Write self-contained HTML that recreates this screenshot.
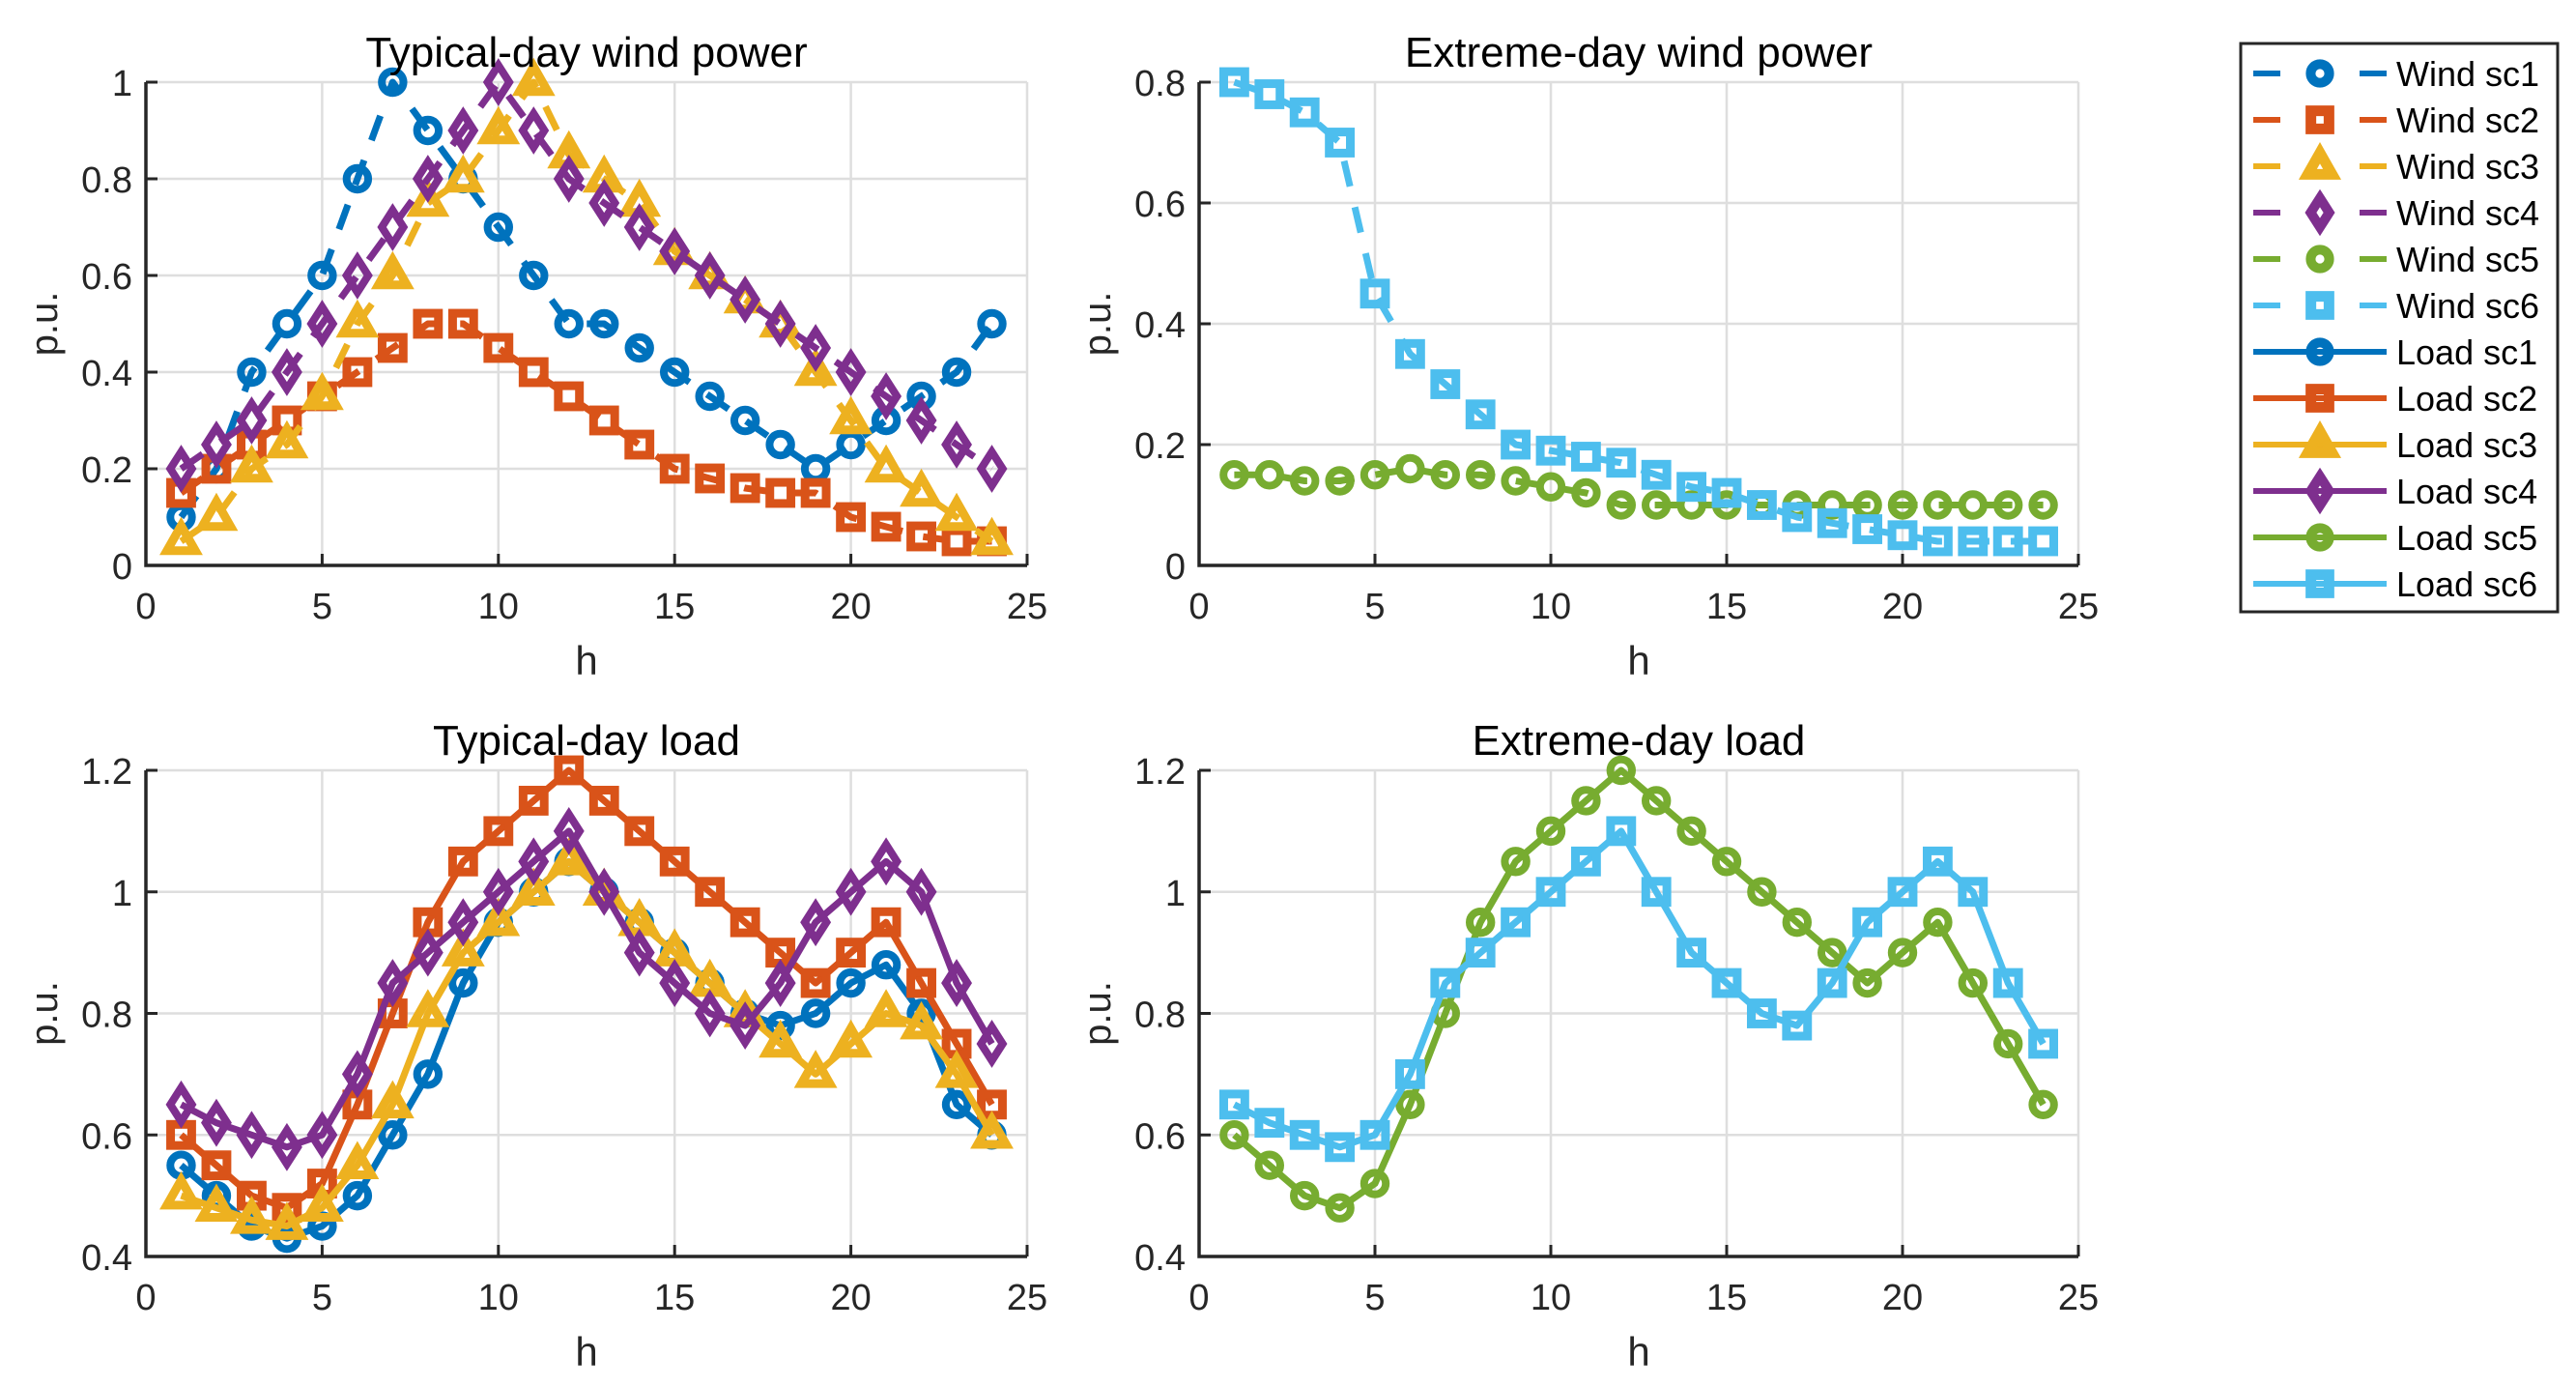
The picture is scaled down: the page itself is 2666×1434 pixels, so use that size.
<!DOCTYPE html>
<html><head><meta charset="utf-8"><style>
body{margin:0;background:#fff;}
svg{display:block;font-family:"Liberation Sans",Arial,sans-serif;}
</style></head><body>
<svg id="fig" width="2666" height="1434" viewBox="0 0 2666 1434" xmlns="http://www.w3.org/2000/svg"></svg>
<script>
const hours=[1,2,3,4,5,6,7,8,9,10,11,12,13,14,15,16,17,18,19,20,21,22,23,24];
const windSc1=[0.1,0.2,0.4,0.5,0.6,0.8,1.0,0.9,0.8,0.7,0.6,0.5,0.5,0.45,0.4,0.35,0.3,0.25,0.2,0.25,0.3,0.35,0.4,0.5];
const windSc2=[0.15,0.2,0.25,0.3,0.35,0.4,0.45,0.5,0.5,0.45,0.4,0.35,0.3,0.25,0.2,0.18,0.16,0.15,0.15,0.1,0.08,0.06,0.05,0.05];
const windSc3=[0.05,0.1,0.2,0.25,0.35,0.5,0.6,0.75,0.8,0.9,1.0,0.85,0.8,0.75,0.65,0.6,0.55,0.5,0.4,0.3,0.2,0.15,0.1,0.05];
const windSc4=[0.2,0.25,0.3,0.4,0.5,0.6,0.7,0.8,0.9,1.0,0.9,0.8,0.75,0.7,0.65,0.6,0.55,0.5,0.45,0.4,0.35,0.3,0.25,0.2];
const windSc5=[0.15,0.15,0.14,0.14,0.15,0.16,0.15,0.15,0.14,0.13,0.12,0.1,0.1,0.1,0.1,0.1,0.1,0.1,0.1,0.1,0.1,0.1,0.1,0.1];
const windSc6=[0.8,0.78,0.75,0.7,0.45,0.35,0.3,0.25,0.2,0.19,0.18,0.17,0.15,0.13,0.12,0.1,0.08,0.07,0.06,0.05,0.04,0.04,0.04,0.04];
const loadSc1=[0.55,0.5,0.45,0.43,0.45,0.5,0.6,0.7,0.85,0.95,1.0,1.05,1.0,0.95,0.9,0.85,0.8,0.78,0.8,0.85,0.88,0.8,0.65,0.6];
const loadSc2=[0.6,0.55,0.5,0.48,0.52,0.65,0.8,0.95,1.05,1.1,1.15,1.2,1.15,1.1,1.05,1.0,0.95,0.9,0.85,0.9,0.95,0.85,0.75,0.65];
const loadSc3=[0.5,0.48,0.46,0.45,0.48,0.55,0.65,0.8,0.9,0.95,1.0,1.05,1.0,0.95,0.9,0.85,0.8,0.75,0.7,0.75,0.8,0.78,0.7,0.6];
const loadSc4=[0.65,0.62,0.6,0.58,0.6,0.7,0.85,0.9,0.95,1.0,1.05,1.1,1.0,0.9,0.85,0.8,0.78,0.85,0.95,1.0,1.05,1.0,0.85,0.75];
const loadSc5=[0.6,0.55,0.5,0.48,0.52,0.65,0.8,0.95,1.05,1.1,1.15,1.2,1.15,1.1,1.05,1.0,0.95,0.9,0.85,0.9,0.95,0.85,0.75,0.65];
const loadSc6=[0.65,0.62,0.6,0.58,0.6,0.7,0.85,0.9,0.95,1.0,1.05,1.1,1.0,0.9,0.85,0.8,0.78,0.85,0.95,1.0,1.05,1.0,0.85,0.75];
const xTicks=[0,5,10,15,20,25];
const yTicksA=[0,0.2,0.4,0.6,0.8,1];
const yTicksB=[0,0.2,0.4,0.6,0.8];
const yTicksC=[0.4,0.6,0.8,1,1.2];
const yTickLabelsA=["0","0.2","0.4","0.6","0.8","1"];
const yTickLabelsB=["0","0.2","0.4","0.6","0.8"];
const yTickLabelsC=["0.4","0.6","0.8","1","1.2"];

const C=["#0072BD","#D95319","#EDB120","#7E2F8E","#77AC30","#4DBEEE"];
const MK=["o","s","^","d","o","s"];
const NS="http://www.w3.org/2000/svg";
const svg=document.getElementById('fig');
function el(t,a,p){const e=document.createElementNS(NS,t);for(const k in a)e.setAttribute(k,a[k]);(p||svg).appendChild(e);return e;}
function marker(g,type,x,y,col,r,sw){
  let e;
  if(type==="o")e=el('circle',{cx:x,cy:y,r:r*0.8,fill:'none',stroke:col,'stroke-width':sw},g);
  else if(type==="s")e=el('rect',{x:x-r*0.78,y:y-r*0.78,width:r*1.56,height:r*1.56,fill:'none',stroke:col,'stroke-width':sw+1},g);
  else if(type==="^")e=el('polygon',{points:`${x},${y-r*1.15} ${x-r*1.05},${y+r*0.7} ${x+r*1.05},${y+r*0.7}`,fill:'none',stroke:col,'stroke-width':sw+1,'stroke-linejoin':'miter'},g);
  else e=el('polygon',{points:`${x},${y-r*1.25} ${x+r*0.8},${y} ${x},${y+r*1.25} ${x-r*0.8},${y}`,fill:'none',stroke:col,'stroke-width':sw},g);
  return e;
}
function axes(name,L,R,T,B,ymin,ymax,yt,ytl,title,series){
  const g=el('g',{});
  
  
  const sx=v=>L+(v-0)/(25-0)*(R-L);
  const sy=v=>B-(v-ymin)/(ymax-ymin)*(B-T);
  xTicks.forEach(t=>{
    const ln=el('line',{x1:sx(t),x2:sx(t),y1:T,y2:B,stroke:'#dedede','stroke-width':2.5},g);
    
  });
  yt.forEach(t=>{
    const ln=el('line',{x1:L,x2:R,y1:sy(t),y2:sy(t),stroke:'#dedede','stroke-width':2.5},g);
    
  });
  series.forEach(s=>{
    const sg=el('g',{},g);
    
    
    const pts=hours.map((h,i)=>sx(h)+','+sy(s.data[i])).join(' ');
    const a={points:pts,fill:'none',stroke:s.col,'stroke-width':7,'stroke-linejoin':'round'};
    if(s.dash)a['stroke-dasharray']='27 22';
    el('polyline',a,sg);
    hours.forEach((h,i)=>{const m=marker(sg,s.mk,sx(h),sy(s.data[i]),s.col,14,8);
      });
  });
  const ax=el('path',{d:`M${L},${T} L${L},${B} L${R},${B}`,fill:'none',stroke:'#262626','stroke-width':3.5},g);
  
  xTicks.forEach(t=>{
    el('line',{x1:sx(t),x2:sx(t),y1:B,y2:B-12,stroke:'#262626','stroke-width':3},g);
    const tx=el('text',{x:sx(t),y:B+55,'font-size':38,'text-anchor':'middle',fill:'#262626'},g);
    tx.textContent=t;
  });
  yt.forEach((t,i)=>{
    el('line',{x1:L,x2:L+12,y1:sy(t),y2:sy(t),stroke:'#262626','stroke-width':3},g);
    const tx=el('text',{x:L-14,y:sy(t)+14,'font-size':38,'text-anchor':'end',fill:'#262626'},g);
    tx.textContent=ytl[i];
  });
  const ti=el('text',{x:(L+R)/2,y:T-16,'font-size':44,'text-anchor':'middle',fill:'#000'},g);
  ti.textContent=title;
  const xl=el('text',{x:(L+R)/2,y:B+113,'font-size':42,'text-anchor':'middle',fill:'#262626'},g);
  xl.textContent='h';
  const yx=L-92,yy=(T+B)/2;
  const yl=el('text',{x:yx,y:yy,'font-size':40,'text-anchor':'middle',fill:'#262626',transform:`rotate(-90 ${yx} ${yy})`},g);
  yl.textContent='p.u.';
}
axes('typical-wind-plot',151,1063,85,585,0,1,yTicksA,yTickLabelsA,'Typical-day wind power',[
 {name:'wind-sc1-line',data:windSc1,col:C[0],mk:'o',dash:1},
 {name:'wind-sc2-line',data:windSc2,col:C[1],mk:'s',dash:1},
 {name:'wind-sc3-line',data:windSc3,col:C[2],mk:'^',dash:1},
 {name:'wind-sc4-line',data:windSc4,col:C[3],mk:'d',dash:1}]);
axes('extreme-wind-plot',1241,2151,85,585,0,0.8,yTicksB,yTickLabelsB,'Extreme-day wind power',[
 {name:'wind-sc5-line',data:windSc5,col:C[4],mk:'o',dash:1},
 {name:'wind-sc6-line',data:windSc6,col:C[5],mk:'s',dash:1}]);
axes('typical-load-plot',151,1063,797,1300,0.4,1.2,yTicksC,yTickLabelsC,'Typical-day load',[
 {name:'load-sc1-line',data:loadSc1,col:C[0],mk:'o'},
 {name:'load-sc2-line',data:loadSc2,col:C[1],mk:'s'},
 {name:'load-sc3-line',data:loadSc3,col:C[2],mk:'^'},
 {name:'load-sc4-line',data:loadSc4,col:C[3],mk:'d'}]);
axes('extreme-load-plot',1241,2151,797,1300,0.4,1.2,yTicksC,yTickLabelsC,'Extreme-day load',[
 {name:'load-sc5-line',data:loadSc5,col:C[4],mk:'o'},
 {name:'load-sc6-line',data:loadSc6,col:C[5],mk:'s'}]);

// legend
const lg=el('g',{});


el('rect',{x:2319,y:45,width:328,height:588,fill:'#fff',stroke:'#262626','stroke-width':3},lg);
const labels=["Wind sc1","Wind sc2","Wind sc3","Wind sc4","Wind sc5","Wind sc6","Load sc1","Load sc2","Load sc3","Load sc4","Load sc5","Load sc6"];
labels.forEach((lab,i)=>{
  const y=76+i*48, c=C[i%6], m=MK[i%6];
  const eg=el('g',{},lg);
  
  
  if(i<6){
    el('line',{x1:2332,x2:2360,y1:y,y2:y,stroke:c,'stroke-width':6},eg);
    el('line',{x1:2442,x2:2470,y1:y,y2:y,stroke:c,'stroke-width':6},eg);
  }else el('line',{x1:2332,x2:2470,y1:y,y2:y,stroke:c,'stroke-width':6},eg);
  marker(eg,m,2401,y,c,12,10);
  const t=el('text',{x:2480,y:y+13,'font-size':36,fill:'#000'},eg);
  t.textContent=lab;
});
</script>
</body></html>
